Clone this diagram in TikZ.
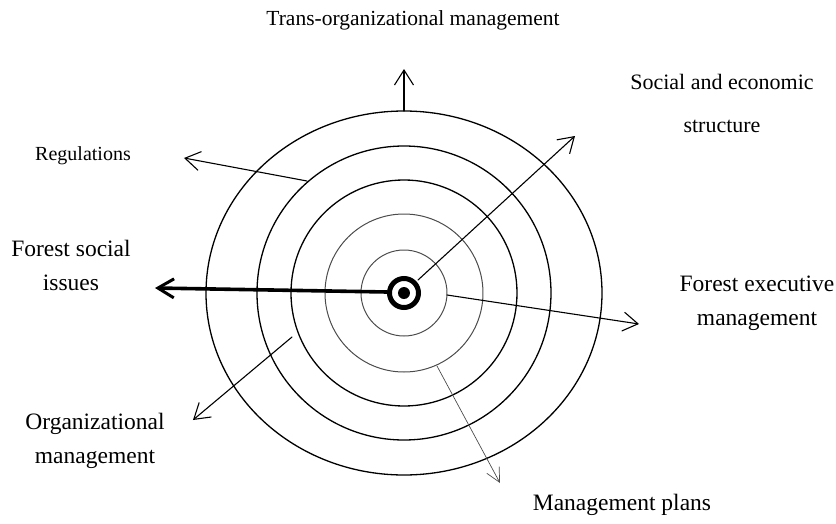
\documentclass[tikz,border=0pt]{standalone}
\usepackage{fontspec}
\setmainfont{Liberation Serif}
\usepackage{tkz-euclide}
\usetikzlibrary{arrows.meta}

\tikzset{
  ring/.style={line width=1.3pt},
  faintring/.style={line width=1pt, black!70},
  outarrow/.style={line width=1.1pt, -{Straight Barb[length=15pt,width=19pt]}},
  planarrow/.style={line width=0.7pt, black!70, -{Straight Barb[length=14pt,width=14pt]}},
  thickarrow/.style={line width=3.6pt, -{Straight Barb[length=16pt,width=19pt,line width=3pt]}},
  bigtag/.style={align=center, font=\fontsize{23.5}{34}\selectfont},
  smalltag/.style={align=center, font=\fontsize{20}{24}\selectfont}
}

\begin{document}
\begin{tikzpicture}[x=1pt,y=1pt]
    \useasboundingbox (-404,-230) rectangle (432,293);
    \tkzDefPoints{0/0/O, 0/182/T, 0/224/Ta, -97/112/R, -220/135/Ra, 14/13/S, 171/157/Sa,
      43/-2/E, 235/-31/Ea, 33/-73/P, 96/-190/Pa, -112/-44/G, -211/-127/Ga, -17/1/F, -249/5/Fa}
    \draw[ring] (O) ellipse [x radius=198, y radius=182];
    \draw[ring] (O) circle [radius=147];
    \draw[ring] (O) circle [radius=113];
    \draw[faintring] (O) circle [radius=79];
    \draw[faintring] (O) circle [radius=43];
    \draw[line width=5pt] (O) circle [radius=14.5];
    \fill (O) circle [radius=6];
    \tkzDrawSegments[outarrow](T,Ta R,Ra S,Sa E,Ea G,Ga)
    \tkzDrawSegment[planarrow](P,Pa)
    \tkzDrawSegment[thickarrow](F,Fa)
    \node[smalltag, font=\fontsize{21.5}{24}\selectfont] (trans) at (9,273) {Trans-organizational management};
    \node[smalltag] (regul) at (-321,137) {Regulations};
    \node[bigtag, font=\fontsize{22}{43}\selectfont] (social) at (318,190) {Social and economic\\structure};
    \node[bigtag] (fsocial) at (-333,28) {Forest social\\issues};
    \node[bigtag] (fexec) at (353,-10) {Forest executive\\management};
    \node[bigtag] (orgman) at (-309,-148) {Organizational\\management};
    \node[bigtag] (plans) at (218,-212) {Management plans};
\end{tikzpicture}
\end{document}
